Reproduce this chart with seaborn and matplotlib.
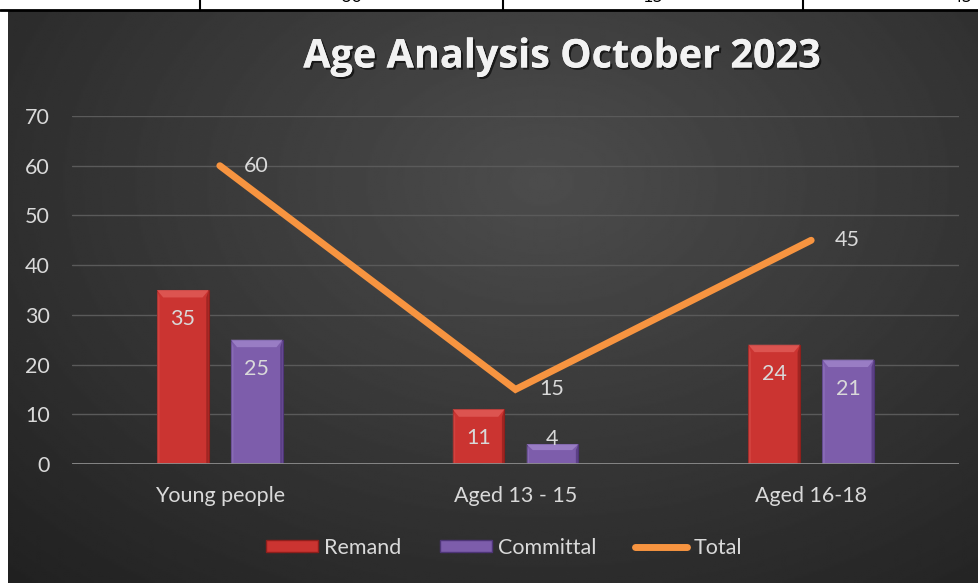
import numpy as np
import pandas as pd
import matplotlib
matplotlib.use('Agg')
import matplotlib.pyplot as plt
import matplotlib.patheffects as pe
from matplotlib.patches import Polygon, Patch
from matplotlib.lines import Line2D
import seaborn as sns

# data
categories = ['Young people', 'Aged 13 - 15', 'Aged 16-18']
remand = [35, 11, 24]
committal = [25, 4, 21]
total = [60, 15, 45]
table_row = ['60', '15', '45']  # bottom of the table row cut off above the chart

series_names = ['Remand', 'Committal', 'Total']
bar_colors = ['#cb3431', '#7d5dab']
bevel_light = ['#e4625e', '#a58bd0']
bevel_dark = ['#8e1f1c', '#4e3577']
line_color = '#f79440'
text_color = '#d9d9d9'

sns.set_theme(style='dark')
plt.rcParams['font.family'] = ['Lato', 'DejaVu Sans']

df = pd.DataFrame({
    'category': categories * 2,
    'value': remand + committal,
    'series': ['Remand'] * 3 + ['Committal'] * 3,
})

W, H = 979, 583
fig = plt.figure(figsize=(W / 100, H / 100), dpi=100)
fig.patch.set_facecolor('white')

# radial gradient background of the chart area
bg = fig.add_axes([8 / W, 0, (W - 8) / W, (H - 10) / H])
yy, xx = np.mgrid[0:1:300j, 0:1:500j]
r = np.sqrt(((xx - 0.55) / 0.8) ** 2 + ((yy - 0.3) / 0.95) ** 2)
lum = np.clip(0.30 - 0.17 * r, 0, 1)
bg.imshow(lum, cmap='gray', vmin=0, vmax=1, aspect='auto', interpolation='bilinear')
bg.axis('off')

ax = fig.add_axes([72 / W, 119 / H, 887 / W, 348 / H])
ax.patch.set_alpha(0)

sns.barplot(data=df, x='category', y='value', hue='series', palette=bar_colors,
            width=0.5, gap=0.3, saturation=1, errorbar=None, legend=False,
            ax=ax, zorder=3)

# bevel effect + value labels
for i, cont in enumerate(ax.containers):
    for bar in cont:
        x0, y0 = bar.get_x(), bar.get_y()
        w, h = bar.get_width(), bar.get_height()
        bar.set_edgecolor(bevel_dark[i])
        bar.set_linewidth(0.8)
        bx = w * 0.12
        by = min(1.5, h * 0.3)
        ax.add_patch(Polygon([(x0, y0 + h), (x0 + w, y0 + h), (x0 + w - bx, y0 + h - by),
                              (x0 + bx, y0 + h - by)], closed=True, facecolor=bevel_light[i],
                             edgecolor='none', alpha=0.7, zorder=4))
        ax.add_patch(Polygon([(x0 + w, y0), (x0 + w, y0 + h), (x0 + w - bx * 0.4, y0 + h - by),
                              (x0 + w - bx * 0.4, y0)], closed=True, facecolor=bevel_dark[i],
                             edgecolor='none', alpha=0.7, zorder=4))
        ax.add_patch(Polygon([(x0, y0), (x0, y0 + h), (x0 + bx * 0.4, y0 + h - by),
                              (x0 + bx * 0.4, y0)], closed=True, facecolor=bevel_light[i],
                             edgecolor='none', alpha=0.35, zorder=4))
        off = -21 if h > 8 else 4
        ax.annotate(f'{h:.0f}', (x0 + w / 2, y0 + h), xytext=(0, off), textcoords='offset points',
                    ha='center', va='center', color=text_color, fontsize=15.5, zorder=6)

xpos = np.arange(len(categories))
sns.lineplot(x=xpos, y=total, color=line_color, linewidth=5, ax=ax, zorder=5,
             solid_capstyle='round', solid_joinstyle='miter')
for xp, v in zip(xpos, total):
    ax.annotate(str(v), (xp, v), xytext=(26, 0), textcoords='offset points',
                ha='center', va='center', color=text_color, fontsize=15.5, zorder=6)

ax.set_xlim(-0.5, 2.5)
ax.set_ylim(0, 70)
ax.set_yticks(range(0, 71, 10))
ax.yaxis.grid(True, color='#5a5a5a', linewidth=1, zorder=0)
ax.xaxis.grid(False)
ax.axhline(0, color='#8c8c8c', linewidth=2, zorder=4)
for s in ax.spines.values():
    s.set_visible(False)
ax.tick_params(axis='y', colors=text_color, labelsize=15.5, length=0, pad=16)
ax.tick_params(axis='x', colors=text_color, labelsize=15.5, length=0, pad=16)
ax.set_xlabel('')
ax.set_ylabel('')

fig.text(562 / W, 1 - 57 / H, 'Age Analysis October 2023', fontsize=28.5, fontweight='bold',
         family=['Open Sans', 'DejaVu Sans'], color='#f2f2f2', ha='center', va='center',
         path_effects=[pe.withSimplePatchShadow(offset=(1.5, -1.5), shadow_rgbFace='black', alpha=0.6),
                       pe.Normal()])

handles = [Patch(facecolor=bar_colors[0], edgecolor=bevel_dark[0]),
           Patch(facecolor=bar_colors[1], edgecolor=bevel_dark[1]),
           Line2D([], [], color=line_color, linewidth=5, solid_capstyle='round')]
ax.legend(handles, series_names, loc='center', bbox_to_anchor=(504 / W, 1 - 548 / H),
          bbox_transform=fig.transFigure, ncol=3, frameon=False, labelcolor=text_color,
          fontsize=15.5, handlelength=2.4, handleheight=0.5, columnspacing=1.8, handletextpad=0.3)

# table strip above the chart
fig.add_artist(Line2D([0, 1], [1 - 9.5 / H] * 2, color='black', linewidth=2, transform=fig.transFigure))
for xl in [200, 503, 803]:
    fig.add_artist(Line2D([xl / W] * 2, [1 - 9.5 / H, 1], color='black', linewidth=1.5,
                          transform=fig.transFigure))
for xt, t in zip([351, 653, 962], table_row):
    fig.text(xt / W, 1 + 3 / H, t, fontsize=13, color='black', ha='center', va='center')

fig.savefig('out.png', dpi=100)
